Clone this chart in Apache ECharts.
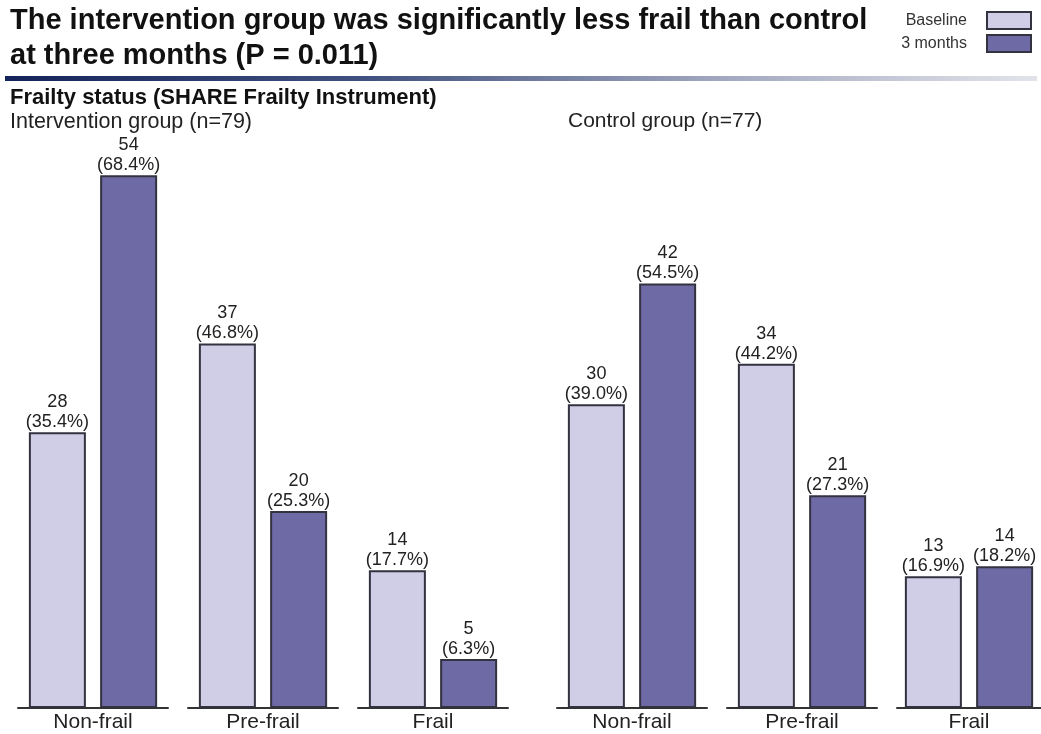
<!DOCTYPE html>
<html>
<head>
<meta charset="utf-8">
<script src="https://cdn.jsdelivr.net/npm/echarts@6/dist/echarts.min.js"></script>
<style>
html,body{margin:0;padding:0;background:#fff;}
#chart{width:1041px;height:734px;}
</style>
</head>
<body>
<div id="chart"></div>
<script>
// ---- data ----
const categories = ['Non-frail', 'Pre-frail', 'Frail'];
const seriesNames = ['Baseline', '3 months'];
const interventionBaselineN = [28, 37, 14];
const interventionBaselinePct = [35.4, 46.8, 17.7];
const intervention3mN = [54, 20, 5];
const intervention3mPct = [68.4, 25.3, 6.3];
const controlBaselineN = [30, 34, 13];
const controlBaselinePct = [39.0, 44.2, 16.9];
const control3mN = [42, 21, 14];
const control3mPct = [54.5, 27.3, 18.2];
const panelTitles = ['Intervention group (n=79)', 'Control group (n=77)'];

// ---- layout / style ----
const FONT = '"Liberation Sans", Arial, Helvetica, sans-serif';
const gridLefts = [18, 188, 358, 557, 727, 897];
const gridWidth = 150;
const colors = ['#cfcee6', '#6e6aa6'];

const panels = [
  { n: [interventionBaselineN, intervention3mN], p: [interventionBaselinePct, intervention3mPct] },
  { n: [controlBaselineN, control3mN], p: [controlBaselinePct, control3mPct] }
];

const grids = [], xAxes = [], yAxes = [], series = [];
for (let g = 0; g < 6; g++) {
  const panel = panels[Math.floor(g / 3)];
  const ci = g % 3;
  grids.push({ left: gridLefts[g], width: gridWidth, top: 155, bottom: 26 });
  xAxes.push({
    type: 'category', gridIndex: g, data: [categories[ci]],
    axisLine: { lineStyle: { color: '#333', width: 2 } },
    axisTick: { show: false },
    axisLabel: { fontSize: 21, color: '#222', fontFamily: FONT, margin: 4 }
  });
  yAxes.push({ type: 'value', gridIndex: g, min: 0, max: 71, show: false, splitLine: { show: false } });
  for (let s = 0; s < 2; s++) {
    const cnt = panel.n[s][ci];
    const pct = panel.p[s][ci];
    series.push({
      name: seriesNames[s], type: 'bar', xAxisIndex: g, yAxisIndex: g,
      barWidth: 57, barGap: '25%',
      itemStyle: { color: colors[s], borderColor: '#333340', borderWidth: 2 },
      data: [pct],
      label: {
        show: true, position: 'top', distance: 0,
        fontFamily: FONT, fontSize: 18, color: '#222', lineHeight: 20,
        formatter: () => cnt + '\n(' + pct.toFixed(1) + '%)'
      },
      emphasis: { disabled: true },
      animation: false
    });
  }
}

const chart = echarts.init(document.getElementById('chart'));
chart.setOption({
  backgroundColor: '#fff',
  animation: false,
  title: [
    { text: 'The intervention group was significantly less frail than control\nat three months (P = 0.011)',
      left: 10, top: 3, padding: 0,
      textStyle: { fontFamily: FONT, fontSize: 29, fontWeight: 'bold', color: '#111', lineHeight: 35 } },
    { text: 'Frailty status (SHARE Frailty Instrument)', left: 10, top: 87, padding: 0,
      textStyle: { fontFamily: FONT, fontSize: 22, fontWeight: 'bold', color: '#111' } },
    { text: panelTitles[0], left: 10, top: 111, padding: 0,
      textStyle: { fontFamily: FONT, fontSize: 21.5, fontWeight: 'normal', color: '#222' } },
    { text: panelTitles[1], left: 568, top: 111, padding: 0,
      textStyle: { fontFamily: FONT, fontSize: 21, fontWeight: 'normal', color: '#222' } }
  ],
  legend: {
    data: seriesNames, orient: 'vertical', right: 9, top: 11, padding: 0,
    align: 'right', icon: 'rect', itemWidth: 44, itemHeight: 17, itemGap: 4,
    textStyle: { fontFamily: FONT, fontSize: 16, color: '#333', padding: [0, 15, 0, 0] },
    selectedMode: false
  },
  graphic: [{
    type: 'rect', left: 5, top: 76,
    shape: { width: 1032, height: 5 },
    style: {
      fill: new echarts.graphic.LinearGradient(0, 0, 1, 0, [
        { offset: 0, color: '#14245a' },
        { offset: 0.35, color: '#41517f' },
        { offset: 0.7, color: '#a3a9c0' },
        { offset: 1, color: '#e2e3ea' }
      ])
    },
    silent: true
  }],
  grid: grids,
  xAxis: xAxes,
  yAxis: yAxes,
  series: series
});
</script>
</body>
</html>
